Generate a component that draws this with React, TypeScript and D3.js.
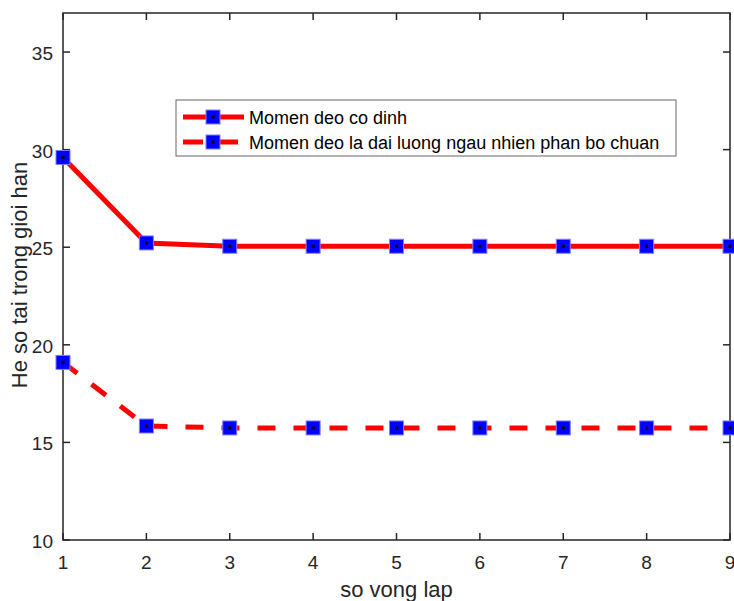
import React, { useRef, useEffect } from 'react';
import * as d3 from 'd3';

const iterations = [1, 2, 3, 4, 5, 6, 7, 8, 9];
const fixedMoment = [29.6, 25.22, 25.05, 25.05, 25.05, 25.05, 25.05, 25.05, 25.05];
const randomMoment = [19.1, 15.84, 15.74, 15.74, 15.74, 15.74, 15.74, 15.74, 15.74];
const seriesNames = ['Momen deo co dinh', 'Momen deo la dai luong ngau nhien phan bo chuan'];
const yTicks = [10, 15, 20, 25, 30, 35];

const W = 734;
const H = 601;
const margin = { left: 63, right: 4, top: 13, bottom: 61 };
const axisColor = '#262626';
const font = '"Liberation Sans", Arial, sans-serif';

const App = () => {
  const ref = useRef<SVGSVGElement>(null);

  useEffect(() => {
    const svg = d3.select(ref.current);
    svg.selectAll('*').remove();

    const x = d3.scaleLinear().domain([1, 9]).range([margin.left, W - margin.right]);
    const y = d3.scaleLinear().domain([10, 37]).range([H - margin.bottom, margin.top]);
    const x0 = margin.left, x1 = W - margin.right, y0 = H - margin.bottom, y1 = margin.top;

    svg.append('rect').attr('width', W).attr('height', H).attr('fill', 'white');

    // axes with inward ticks on all four sides
    const tick = 7;
    const g = svg.append('g').attr('stroke', axisColor).attr('stroke-width', 1.5);
    iterations.forEach((v) => {
      g.append('line').attr('x1', x(v)).attr('x2', x(v)).attr('y1', y0).attr('y2', y0 - tick);
      g.append('line').attr('x1', x(v)).attr('x2', x(v)).attr('y1', y1).attr('y2', y1 + tick);
    });
    yTicks.forEach((v) => {
      g.append('line').attr('x1', x0).attr('x2', x0 + tick).attr('y1', y(v)).attr('y2', y(v));
      g.append('line').attr('x1', x1).attr('x2', x1 - tick).attr('y1', y(v)).attr('y2', y(v));
    });
    g.append('rect')
      .attr('x', x0).attr('y', y1).attr('width', x1 - x0).attr('height', y0 - y1)
      .attr('fill', 'none');

    const labels = svg.append('g').attr('fill', axisColor).attr('font-family', font).attr('font-size', 19);
    iterations.forEach((v) => {
      labels.append('text').attr('x', x(v)).attr('y', y0 + 29).attr('text-anchor', 'middle').text(v);
    });
    yTicks.forEach((v) => {
      labels.append('text').attr('x', x0 - 10).attr('y', y(v) + 8).attr('text-anchor', 'end').text(v);
    });
    labels.append('text')
      .attr('x', (x0 + x1) / 2).attr('y', H - 4).attr('text-anchor', 'middle').attr('font-size', 22)
      .text('so vong lap');
    labels.append('text')
      .attr('transform', `translate(27, 275) rotate(-90)`)
      .attr('text-anchor', 'middle').attr('font-size', 22)
      .text('He so tai trong gioi han');

    const line = d3.line<number>().x((_, i) => x(iterations[i])).y((d) => y(d));

    const drawMarker = (sel: any, cx: number, cy: number) => {
      sel.append('rect')
        .attr('x', cx - 7).attr('y', cy - 7).attr('width', 14).attr('height', 14)
        .attr('fill', '#0000ff').attr('stroke', '#7f7fff').attr('stroke-width', 1);
      sel.append('rect')
        .attr('x', cx - 1.5).attr('y', cy - 1.5).attr('width', 3).attr('height', 3)
        .attr('fill', '#000');
    };

    const plot = svg.append('g');
    [fixedMoment, randomMoment].forEach((data, k) => {
      plot.append('path')
        .attr('d', line(data))
        .attr('fill', 'none')
        .attr('stroke', '#ff0000')
        .attr('stroke-width', 5)
        .attr('stroke-dasharray', k === 1 ? '18 18' : null);
      data.forEach((d, i) => drawMarker(plot, x(iterations[i]), y(d)));
    });

    // legend
    const lg = svg.append('g');
    lg.append('rect')
      .attr('x', 176).attr('y', 100).attr('width', 500).attr('height', 56)
      .attr('fill', 'white').attr('stroke', '#666').attr('stroke-width', 1);
    seriesNames.forEach((name, k) => {
      const ly = k === 0 ? 117 : 142;
      lg.append('line')
        .attr('x1', 183).attr('x2', k === 1 ? 238 : 244).attr('y1', ly).attr('y2', ly)
        .attr('stroke', '#ff0000').attr('stroke-width', 5)
        .attr('stroke-dasharray', k === 1 ? '20 17' : null);
      drawMarker(lg, 213, ly);
      lg.append('text')
        .attr('x', 249).attr('y', ly + 6.5)
        .attr('font-family', font).attr('font-size', 18).attr('fill', '#000')
        .text(name);
    });
  }, []);

  return <svg ref={ref} width={W} height={H} style={{ position: 'absolute', left: 0, top: 0 }} />;
};

export default App;
